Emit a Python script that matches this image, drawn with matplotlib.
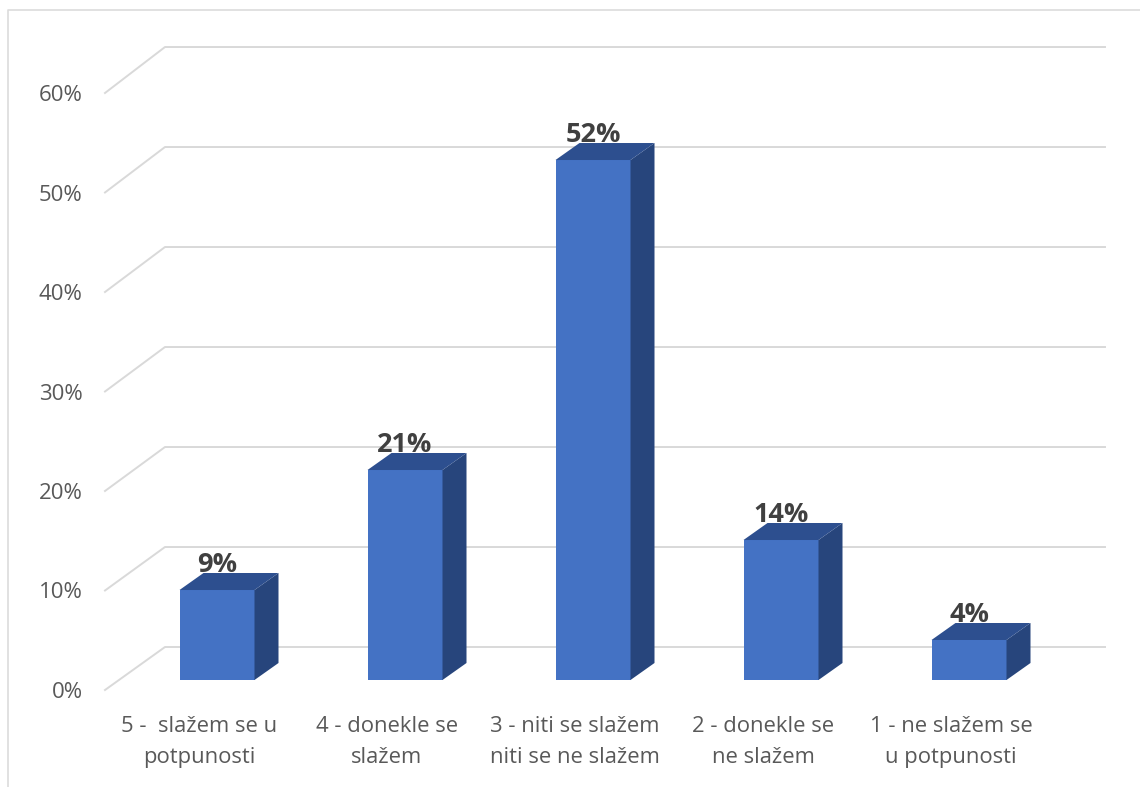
import matplotlib
matplotlib.use("Agg")
import matplotlib.pyplot as plt
from matplotlib.lines import Line2D
from matplotlib.patches import Polygon

# Values
categories = ["5 -  slažem se u\npotpunosti", "4 - donekle se\nslažem",
              "3 - niti se slažem\nniti se ne slažem", "2 - donekle se\nne slažem",
              "1 - ne slažem se\nu potpunosti"]
values = [9, 21, 52, 14, 4]
value_labels = ["9%", "21%", "52%", "14%", "4%"]
y_ticks = [0, 10, 20, 30, 40, 50, 60]
y_labels = ["0%", "10%", "20%", "30%", "40%", "50%", "60%"]

W, H = 1140, 787
plt.rcParams['font.family'] = ['Open Sans', 'DejaVu Sans']

fig = plt.figure(figsize=(W / 100, H / 100), dpi=100, facecolor='white')

# Front plane of the fake 3D chart
left, right, bottom, top = 105, 1045, 690, 93
ax = fig.add_axes([left / W, 1 - bottom / H, (right - left) / W, (bottom - top) / H])
ax.set_xlim(-0.5, 4.5)
ax.set_ylim(0, 60)
ax.patch.set_visible(False)
for s in ax.spines.values():
    s.set_visible(False)

# Depth offsets, in data units
px_x = 5 / (right - left)
px_y = 60 / (bottom - top)
wall_dx, wall_dy = 60 * px_x, 43 * px_y
inset_dx, inset_dy = 18 * px_x, 10 * px_y
bar_dx, bar_dy = 24 * px_x, 17 * px_y
half_w = 37.5 * px_x
depth_scale = 1.005  # back wall and bars are drawn slightly taller than the axis
GRID = '#d9d9d9'

# Gridlines: diagonal on the side wall, then along the back wall
for v in y_ticks:
    back = v * depth_scale + wall_dy
    ax.plot([-0.5, -0.5 + wall_dx, 4.5 + wall_dx], [v, back, back],
            color=GRID, lw=1.4, clip_on=False, zorder=1)

# Bars
for i, v in enumerate(values):
    x0 = i + inset_dx - half_w
    x1 = i + inset_dx + half_w
    y0 = inset_dy
    y1 = inset_dy + v * depth_scale
    ax.add_patch(Polygon([(x0, y0), (x1, y0), (x1, y1), (x0, y1)],
                         fc='#4472c4', ec='none', clip_on=False, zorder=3))
    ax.add_patch(Polygon([(x1, y0), (x1 + bar_dx, y0 + bar_dy), (x1 + bar_dx, y1 + bar_dy), (x1, y1)],
                         fc='#27457c', ec='none', clip_on=False, zorder=3))
    ax.add_patch(Polygon([(x0, y1), (x1, y1), (x1 + bar_dx, y1 + bar_dy), (x0 + bar_dx, y1 + bar_dy)],
                         fc='#2d4f8f', ec='none', clip_on=False, zorder=3))
    ax.text(i + inset_dx, y1 + bar_dy + 0.1, value_labels[i], ha='center', va='baseline',
            fontsize=19.5, fontweight='bold', color='#404040', zorder=4)

ax.set_yticks(y_ticks)
ax.set_yticklabels(y_labels, fontsize=16, color='#595959')
ax.set_xticks(range(5))
ax.set_xticklabels(categories, fontsize=15.8, color='#595959', linespacing=1.6)
ax.tick_params(axis='both', length=0)
ax.tick_params(axis='y', pad=16)
ax.tick_params(axis='x', pad=19)

# Chart frame, cropped at the right and bottom of the screenshot
fig.add_artist(Line2D([8 / W, 8 / W, 1], [0, 1 - 10 / H, 1 - 10 / H], color='#dcdcdc', lw=1.2))

fig.savefig("out.png", dpi=100)
